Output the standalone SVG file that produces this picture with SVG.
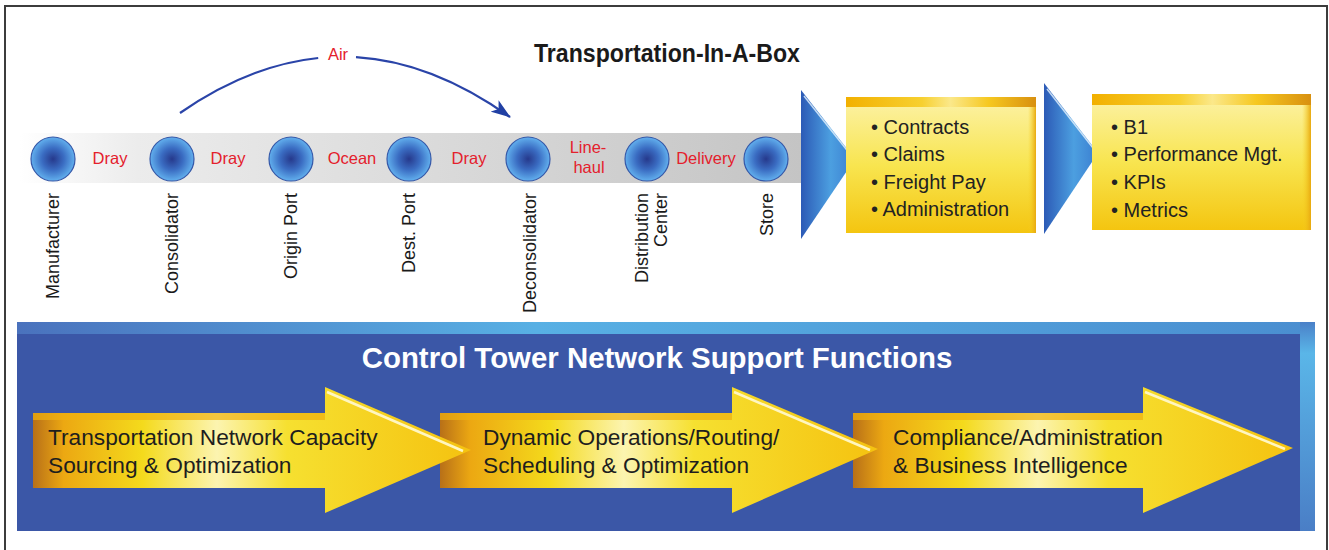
<svg xmlns="http://www.w3.org/2000/svg" width="1329" height="550" viewBox="0 0 1329 550">
<style>
.lbl{font-family:"Liberation Sans",Arial,sans-serif;font-size:16.5px;fill:#e4202c;text-anchor:middle}
.vl{font-family:"Liberation Sans",Arial,sans-serif;font-size:18px;fill:#1a1a1a;text-anchor:end}
.bx{font-family:"Liberation Sans",Arial,sans-serif;font-size:20px;fill:#222}
.ar{font-family:"Liberation Sans",Arial,sans-serif;font-size:22.7px;fill:#1e1e1e}
.node{fill:url(#gNode);stroke:#3558a8;stroke-width:1.2}
.chev{fill:url(#gChev)}
.ybox{fill:url(#gBox)}
.yarrow{fill:url(#gArrow)}
</style>
<defs>
<radialGradient id="gNode" cx="0.5" cy="0.5" r="0.5">
<stop offset="0" stop-color="#26398c"/>
<stop offset="0.5" stop-color="#3a6cc2"/>
<stop offset="1" stop-color="#62b0ee"/>
</radialGradient>
<linearGradient id="gBand" x1="0" y1="0" x2="1" y2="0">
<stop offset="0" stop-color="#ffffff"/>
<stop offset="0.15" stop-color="#ececec"/>
<stop offset="1" stop-color="#c4c4c4"/>
</linearGradient>
<linearGradient id="gChev" x1="0" y1="0" x2="1" y2="0">
<stop offset="0" stop-color="#2c5ab6"/>
<stop offset="0.55" stop-color="#4c9fe0"/>
<stop offset="1" stop-color="#3a7dd0"/>
</linearGradient>
<linearGradient id="gBox" x1="0" y1="0" x2="0" y2="1">
<stop offset="0" stop-color="#fcf2a8"/>
<stop offset="0.5" stop-color="#f8e550"/>
<stop offset="1" stop-color="#f4c510"/>
</linearGradient>
<linearGradient id="gBoxTop" x1="0" y1="0" x2="1" y2="0">
<stop offset="0" stop-color="#f2b000"/>
<stop offset="0.4" stop-color="#f7d030"/>
<stop offset="0.55" stop-color="#fbe88a"/>
<stop offset="0.75" stop-color="#f6c820"/>
<stop offset="1" stop-color="#d89010"/>
</linearGradient>
<linearGradient id="gBoxSide" x1="0" y1="0" x2="1" y2="0">
<stop offset="0" stop-color="#f6d020" stop-opacity="0"/>
<stop offset="1" stop-color="#e8a810"/>
</linearGradient>
<linearGradient id="gArrow" x1="0" y1="0" x2="1" y2="0">
<stop offset="0" stop-color="#b87018"/>
<stop offset="0.07" stop-color="#eca812"/>
<stop offset="0.25" stop-color="#f4da1c"/>
<stop offset="0.42" stop-color="#fcf4b0"/>
<stop offset="0.58" stop-color="#f6e030"/>
<stop offset="1" stop-color="#f5c210"/>
</linearGradient>
<linearGradient id="gPanelTop" x1="0" y1="0" x2="1" y2="0">
<stop offset="0" stop-color="#4a72bd"/>
<stop offset="0.4" stop-color="#58b0e4"/>
<stop offset="1" stop-color="#4a8ed0"/>
</linearGradient>
<linearGradient id="gPanelSide" x1="0" y1="0" x2="0" y2="1">
<stop offset="0" stop-color="#4a80c8"/>
<stop offset="0.15" stop-color="#5ab6e8"/>
<stop offset="1" stop-color="#4a7ec6"/>
</linearGradient>
<marker id="mAir" viewBox="0 0 20 14" refX="19" refY="7" markerWidth="20" markerHeight="14" markerUnits="userSpaceOnUse" orient="auto">
<path d="M0,0 L20,7 L0,14 L5,7 Z" fill="#2140a4"/>
</marker>
</defs>

<rect width="1329" height="550" fill="#ffffff"/>
<path d="M5,550 V6 H1327 V550" fill="none" stroke="#3c3c3c" stroke-width="2"/>

<text x="667" y="62" font-family="'Liberation Sans',Arial,sans-serif" font-weight="bold" font-size="25" fill="#1a1a1a" text-anchor="middle" textLength="266" lengthAdjust="spacingAndGlyphs">Transportation-In-A-Box</text>

<rect x="20" y="133" width="782" height="50" fill="url(#gBand)"/>

<g id="connectors">
<path d="M180,113 Q249.3,65.1 318.2,58" fill="none" stroke="#2a44a8" stroke-width="2.2"/>
<path d="M356,57.1 Q432.2,61.6 510,117" fill="none" stroke="#2a44a8" stroke-width="2.2" marker-end="url(#mAir)"/>
<text x="338" y="60" class="lbl">Air</text>
</g>

<g id="edge-labels">
<text x="110" y="164" class="lbl">Dray</text>
<text x="228" y="164" class="lbl">Dray</text>
<text x="352" y="164" class="lbl">Ocean</text>
<text x="469" y="164" class="lbl">Dray</text>
<text x="588" y="153" class="lbl">Line-</text>
<text x="589" y="173" class="lbl">haul</text>
<text x="706" y="164" class="lbl">Delivery</text>
</g>

<g id="manufacturer"><circle cx="53" cy="159" r="22" class="node"/><text class="vl" transform="translate(59,193) rotate(-90)">Manufacturer</text></g>
<g id="consolidator"><circle cx="172" cy="159" r="22" class="node"/><text class="vl" transform="translate(178,193) rotate(-90)">Consolidator</text></g>
<g id="origin-port"><circle cx="291" cy="159" r="22" class="node"/><text class="vl" transform="translate(297,193) rotate(-90)">Origin Port</text></g>
<g id="dest-port"><circle cx="409" cy="159" r="22" class="node"/><text class="vl" transform="translate(415,193) rotate(-90)">Dest. Port</text></g>
<g id="deconsolidator"><circle cx="528" cy="159" r="22" class="node"/><text class="vl" transform="translate(536,193) rotate(-90)">Deconsolidator</text></g>
<g id="distribution-center"><circle cx="647" cy="159" r="22" class="node"/><text class="vl" transform="translate(648,193) rotate(-90)">Distribution</text><text class="vl" transform="translate(667,193) rotate(-90)">Center</text></g>
<g id="store"><circle cx="766" cy="159" r="22" class="node"/><text class="vl" transform="translate(773,193) rotate(-90)">Store</text></g>

<g id="chevron-1">
<polygon points="801,90 855,159 801,239" class="chev"/>
<line x1="804" y1="96" x2="850" y2="154" stroke="#e8f4ff" stroke-width="1.5" opacity="0.8"/>
</g>

<g id="box-1">
<rect x="846" y="97" width="190" height="136" class="ybox"/>
<rect x="846" y="97" width="190" height="10" fill="url(#gBoxTop)"/>
<rect x="1028" y="107" width="8" height="126" fill="url(#gBoxSide)"/>
<text class="bx" x="871" y="134">• Contracts</text>
<text class="bx" x="871" y="161">• Claims</text>
<text class="bx" x="871" y="189">• Freight Pay</text>
<text class="bx" x="871" y="216">• Administration</text>
</g>

<g id="chevron-2">
<polygon points="1044,83 1098,153 1044,234" class="chev"/>
<line x1="1047" y1="89" x2="1093" y2="148" stroke="#e8f4ff" stroke-width="1.5" opacity="0.8"/>
</g>

<g id="box-2">
<rect x="1092" y="94" width="219" height="136" class="ybox"/>
<rect x="1092" y="94" width="219" height="11" fill="url(#gBoxTop)"/>
<rect x="1302" y="105" width="9" height="125" fill="url(#gBoxSide)"/>
<text class="bx" x="1111" y="134">• B1</text>
<text class="bx" x="1111" y="161">• Performance Mgt.</text>
<text class="bx" x="1111" y="189">• KPIs</text>
<text class="bx" x="1111" y="217">• Metrics</text>
</g>

<g id="control-tower">
<rect x="17" y="322" width="1298" height="209" fill="#3b57a7"/>
<rect x="17" y="322" width="1298" height="12" fill="url(#gPanelTop)"/>
<rect x="1300" y="322" width="15" height="209" fill="url(#gPanelSide)"/>
<text x="657" y="368" font-family="'Liberation Sans',Arial,sans-serif" font-weight="bold" font-size="29.4" fill="#ffffff" text-anchor="middle">Control Tower Network Support Functions</text>
</g>

<g id="arrow-3">
<path d="M853,413 H1143 V387 L1293,448 L1143,513 V488 H853 Z" class="yarrow"/>
<rect x="853" y="413" width="290" height="7" fill="#f0b010" opacity="0.7"/>
<line x1="1145" y1="392" x2="1285" y2="449" stroke="#fff6c0" stroke-width="2.5"/>
<text class="ar" x="893" y="445">Compliance/Administration</text>
<text class="ar" x="893" y="473">&amp; Business Intelligence</text>
</g>

<g id="arrow-2">
<path d="M440,413 H732 V387 L878,449 L732,513 V488 H440 Z" class="yarrow"/>
<rect x="440" y="413" width="292" height="7" fill="#f0b010" opacity="0.7"/>
<line x1="734" y1="392" x2="870" y2="450" stroke="#fff6c0" stroke-width="2.5"/>
<text class="ar" x="483" y="445">Dynamic Operations/Routing/</text>
<text class="ar" x="483" y="473">Scheduling &amp; Optimization</text>
</g>

<g id="arrow-1">
<path d="M33,413 H325 V387 L471,450 L325,513 V488 H33 Z" class="yarrow"/>
<rect x="33" y="413" width="292" height="7" fill="#f0b010" opacity="0.7"/>
<line x1="327" y1="392" x2="463" y2="451" stroke="#fff6c0" stroke-width="2.5"/>
<text class="ar" x="48" y="445">Transportation Network Capacity</text>
<text class="ar" x="48" y="473">Sourcing &amp; Optimization</text>
</g>
</svg>
